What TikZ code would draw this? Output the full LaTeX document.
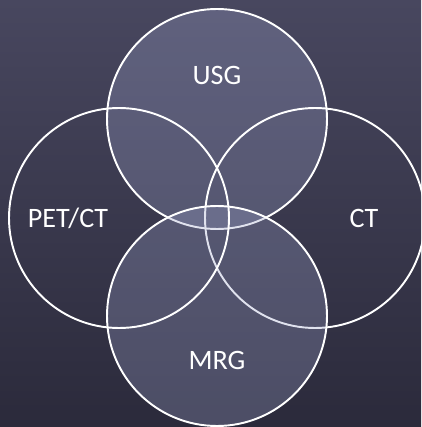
\documentclass[tikz,border=0pt]{standalone}
\usepackage{fontspec}
\setmainfont{Carlito}
\usepackage{tikz}
\usetikzlibrary{positioning,backgrounds,shadings}
\definecolor{bgtop}{HTML}{48475F}
\definecolor{bgbot}{HTML}{2B2A3B}
\definecolor{vennfill}{HTML}{9AA0C8}

\begin{document}
\begin{tikzpicture}
		[scale=1, inner sep=0pt,
		lit/.style		= {draw, circle, white, line width=1.1pt, fill=vennfill, fill opacity=.3, draw opacity=1, minimum size=44mm},
		ring/.style		= {draw, circle, white, line width=1.1pt, minimum size=44mm},
		caption/.style	= {white, font=\fontsize{16}{19}\selectfont}]

		\fill [top color=bgtop, bottom color=bgbot] (0,0) rectangle (8.42,8.54);
		\useasboundingbox (0,0) rectangle (8.42,8.54);

		\node [lit]		at (4.34,6.16)	(usg)	{};
		\node [ring]	at (6.30,4.18)	(ct)	{};
		\node [lit]		at (4.34,2.22)	(mrg)	{};
		\node [ring]	at (2.38,4.18)	(pet)	{};

		\node [caption]	at (4.34,7.04)	(usgtext)	{USG};
		\node [caption]	at (4.34,1.34)	(mrgtext)	{MRG};
		\node [caption]	at (1.36,4.18)	(pettext)	{PET/CT};
		\node [caption]	at (7.28,4.18)	(cttext)	{CT};
		\end{tikzpicture}
\end{document}
